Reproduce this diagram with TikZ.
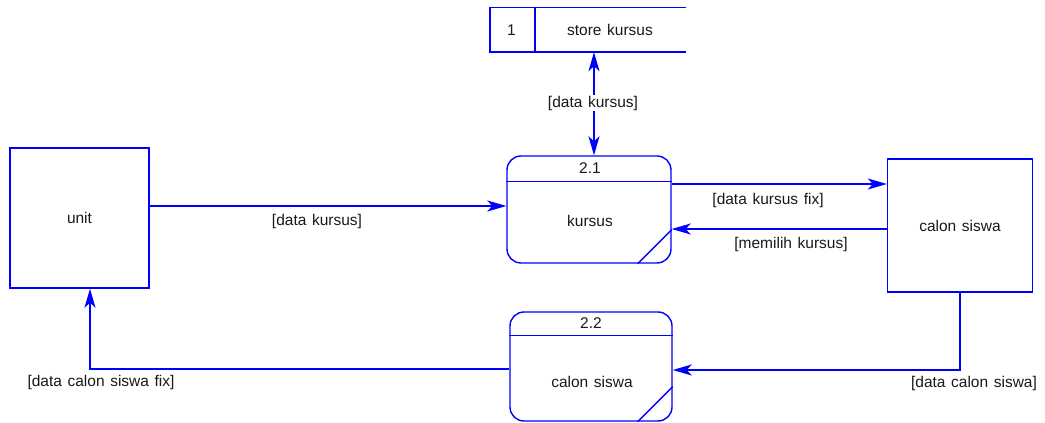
\documentclass[tikz,border=0pt]{standalone}
\usepackage{fontspec}
\setmainfont{Liberation Sans}[WordSpace=1.3]
\usetikzlibrary{arrows.meta,calc}
\begin{document}
\begin{tikzpicture}[x=1pt,y=1pt,
  every node/.style={font=\fontsize{15.5}{18}\selectfont, text=black!90, inner sep=0pt},
  ln/.style={draw=blue, line width=1.4pt},
  entity/.style={ln, rectangle},
  proc/.style={ln, rectangle, rounded corners=14pt},
  flow/.style={ln, -{Stealth[length=19pt,width=11pt,inset=5pt]}},
  bflow/.style={ln, {Stealth[length=19pt,width=11pt,inset=5pt]}-{Stealth[length=19pt,width=11pt,inset=5pt]}},
  lbl/.style={fill=white, inner sep=1pt}]
\useasboundingbox (0,0) rectangle (1045,423);

% external entities
\node[entity, minimum width=139pt, minimum height=140pt] (unit) at (79.5,205) {unit};
\node[entity, minimum width=145pt, minimum height=133pt] (cs) at (960,197.5) {calon siswa};

% data store
\node[minimum width=196pt, minimum height=44pt] (ds) at (588,393) {};
\draw[ln] (ds.north east) -- (ds.north west) -- (ds.south west) -- (ds.south east);
\draw[ln] ($(ds.north west)+(45,0)$) -- ($(ds.south west)+(45,0)$);
\node (dsid) at (511.5,393) {1};
\node (dsname) at (610,393) {store kursus};

% process 2.1
\node[proc, minimum width=164pt, minimum height=107pt] (p21) at (589,213.5) {};
\draw[ln] ($(p21.north west)+(0,-26)$) -- ($(p21.north east)+(0,-26)$);
\draw[ln] ($(p21.south east)+(-34,0)$) -- ($(p21.south east)+(0,34)$);
\node (p21id) at (590,255) {2.1};
\node (p21name) at (590,202) {kursus};

% process 2.2
\node[proc, minimum width=162pt, minimum height=109pt] (p22) at (591,56.5) {};
\draw[ln] ($(p22.north west)+(0,-24)$) -- ($(p22.north east)+(0,-24)$);
\draw[ln] ($(p22.south east)+(-35,0)$) -- ($(p22.south east)+(0,35)$);
\node (p22id) at (591,100) {2.2};
\node (p22name) at (592,41) {calon siswa};

% flows
\draw[bflow] ([xshift=5pt]p21.north |- ds.south) -- ([xshift=5pt]p21.north);
\node[lbl] (f1) at (593,320) {[data kursus]};

\draw[flow] ([yshift=12pt]unit.east) -- ([yshift=12pt]unit.east -| p21.west);
\node (f2) at (317,202) {[data kursus]};

\draw[flow] ([yshift=25.5pt]p21.east) -- ([yshift=25.5pt]p21.east -| cs.west);
\node (f3) at (768,223) {[data kursus fix]};

\draw[flow] ([yshift=-19.5pt]p21.east -| cs.west) -- ([yshift=-19.5pt]p21.east);
\node (f4) at (791,179) {[memilih kursus]};

\draw[flow] (cs.south) |- ([yshift=-3.5pt]p22.east);
\node (f5) at (974,40) {[data calon siswa]};

\draw[flow] ([yshift=-2.5pt]p22.west) -| ([xshift=10.5pt]unit.south);
\node (f6) at (101,41) {[data calon siswa fix]};
\end{tikzpicture}
\end{document}
